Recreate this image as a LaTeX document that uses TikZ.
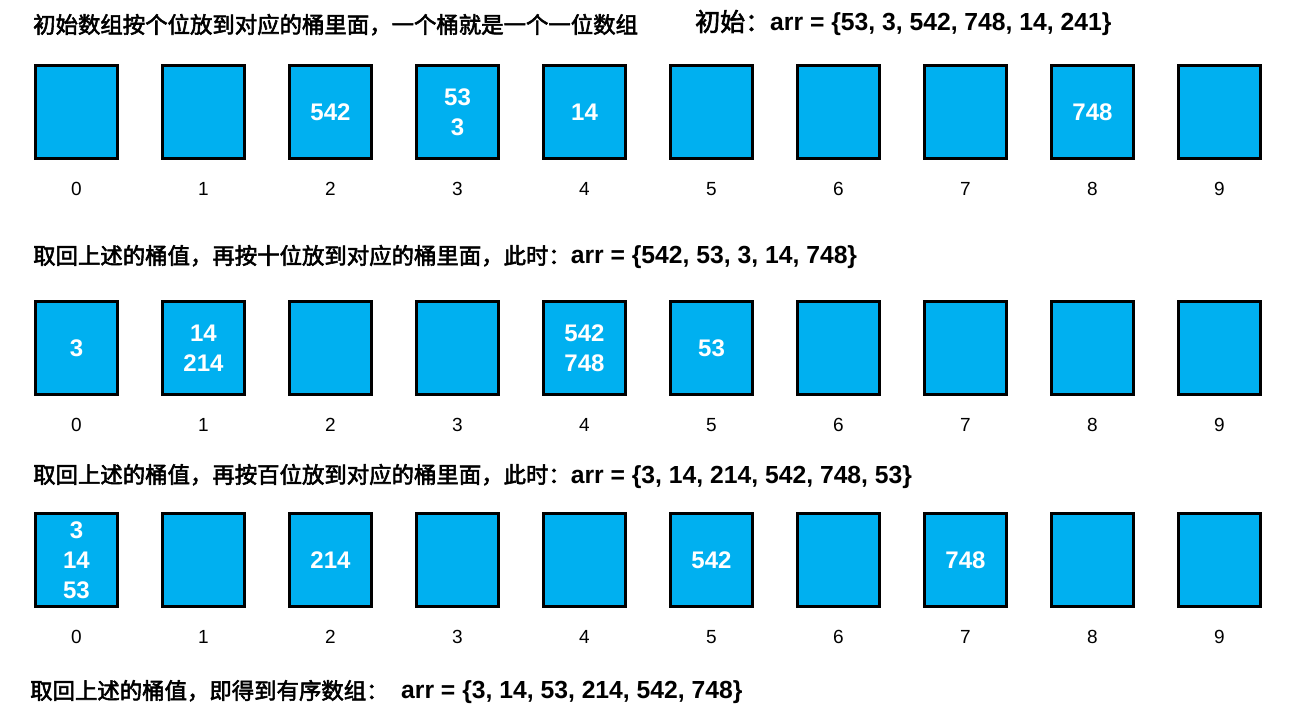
\documentclass[tikz,border=0pt]{standalone}
\usepackage{fontspec}
\setmainfont{Liberation Sans}
\newfontfamily\cjk[FakeBold=2.5]{Noto Sans CJK SC}
\definecolor{bucketblue}{HTML}{00B0F0}

\newcommand{\zh}[1]{{\cjk\fontsize{22.4}{26}\selectfont #1}}
\newcommand{\arrtxt}[1]{{\fontsize{24.7}{30}\selectfont\bfseries #1}}

\tikzset{
  bucket/.style={draw, line width=3pt, fill=bucketblue, minimum width=82pt, minimum height=93pt,
                 inner sep=0pt, align=center, text=white, font=\fontsize{24}{30}\selectfont\bfseries},
  idx/.style={font=\fontsize{19}{19}\selectfont, inner sep=0pt},
  caption/.style={anchor=base west, inner sep=0pt},
}

\begin{document}
\begin{tikzpicture}[x=1pt,y=-1pt]
\useasboundingbox (0,0) rectangle (1290,719);

% units digit
\node[caption] (title1) at (33,33) {\zh{初始数组按个位放到对应的桶里面，一个桶就是一个一位数组}};
\node[caption] (arr1) at (695,31) {{\cjk\fontsize{25}{30}\selectfont 初始：}\arrtxt{arr = \{53, 3, 542, 748, 14, 241\}}};

\node[bucket] (a0) at (76.5,112) {};
\node[bucket] (a1) at (203.5,112) {};
\node[bucket] (a2) at (330.5,112) {542};
\node[bucket] (a3) at (457.5,112) {53\\3};
\node[bucket] (a4) at (584.5,112) {14};
\node[bucket] (a5) at (711.5,112) {};
\node[bucket] (a6) at (838.5,112) {};
\node[bucket] (a7) at (965.5,112) {};
\node[bucket] (a8) at (1092.5,112) {748};
\node[bucket] (a9) at (1219.5,112) {};
\foreach \i in {0,...,9}
  \node[idx] (na\i) at (76.5+127*\i,189) {\i};

% tens digit
\node[caption] (title2) at (33,264) {\zh{取回上述的桶值，再按十位放到对应的桶里面，此时：}\arrtxt{arr = \{542, 53, 3, 14, 748\}}};

\node[bucket] (b0) at (76.5,348) {3};
\node[bucket] (b1) at (203.5,348) {14\\214};
\node[bucket] (b2) at (330.5,348) {};
\node[bucket] (b3) at (457.5,348) {};
\node[bucket] (b4) at (584.5,348) {542\\748};
\node[bucket] (b5) at (711.5,348) {53};
\node[bucket] (b6) at (838.5,348) {};
\node[bucket] (b7) at (965.5,348) {};
\node[bucket] (b8) at (1092.5,348) {};
\node[bucket] (b9) at (1219.5,348) {};
\foreach \i in {0,...,9}
  \node[idx] (nb\i) at (76.5+127*\i,425) {\i};

% hundreds digit
\node[caption] (title3) at (33,483) {\zh{取回上述的桶值，再按百位放到对应的桶里面，此时：}\arrtxt{arr = \{3, 14, 214, 542, 748, 53\}}};

\node[bucket] (c0) at (76.5,560) {3\\14\\53};
\node[bucket] (c1) at (203.5,560) {};
\node[bucket] (c2) at (330.5,560) {214};
\node[bucket] (c3) at (457.5,560) {};
\node[bucket] (c4) at (584.5,560) {};
\node[bucket] (c5) at (711.5,560) {542};
\node[bucket] (c6) at (838.5,560) {};
\node[bucket] (c7) at (965.5,560) {748};
\node[bucket] (c8) at (1092.5,560) {};
\node[bucket] (c9) at (1219.5,560) {};
\foreach \i in {0,...,9}
  \node[idx] (nc\i) at (76.5+127*\i,637) {\i};

% result
\node[caption] (title4) at (30,699) {\zh{取回上述的桶值，即得到有序数组：}};
\node[caption] (arr4) at (401,698) {\arrtxt{arr = \{3, 14, 53, 214, 542, 748\}}};
\end{tikzpicture}
\end{document}
